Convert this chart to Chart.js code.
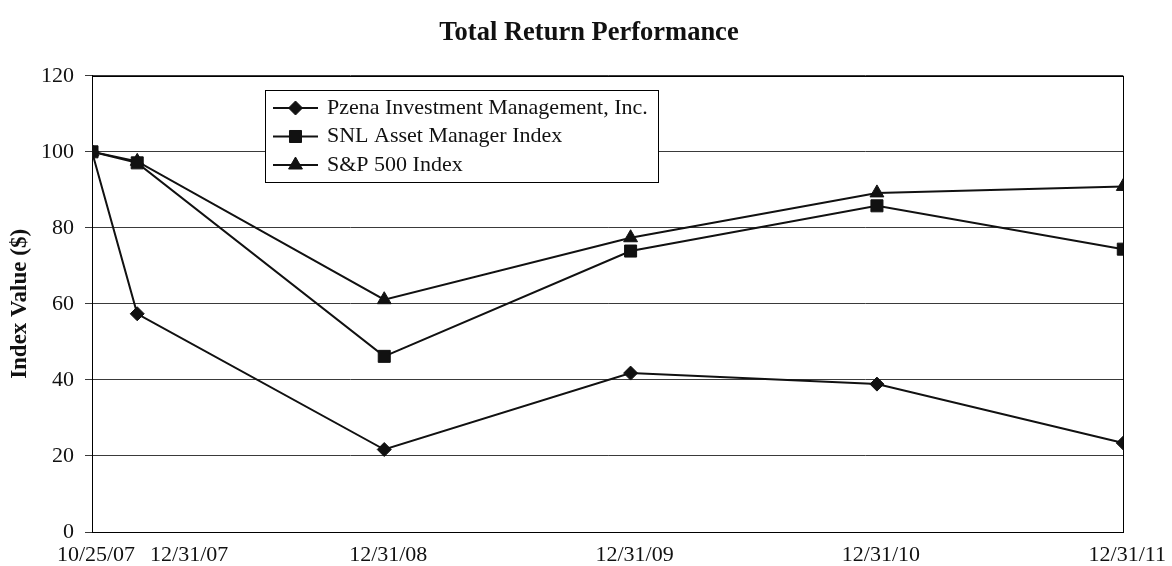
<!DOCTYPE html>
<html>
<head>
<meta charset="utf-8">
<script src="https://cdn.jsdelivr.net/npm/chart.js@4.4.1/dist/chart.umd.min.js"></script>
<style>
html,body{margin:0;padding:0;background:#fff;}
#wrap{width:1172px;height:566px;position:relative;}
</style>
</head>
<body>
<div id="wrap"><canvas id="c" width="1172" height="566"></canvas></div>
<script>
// ---- data ----
const categories = ['10/25/07', '12/31/07', '12/31/08', '12/31/09', '12/31/10', '12/31/11'];
const seriesNames = ['Pzena Investment Management, Inc.', 'SNL Asset Manager Index', 'S&P 500 Index'];
const pzena = [100, 57.4, 21.7, 41.8, 38.9, 23.4];
const snl   = [100, 97.1, 46.2, 73.9, 85.8, 74.4];
const sp500 = [100, 97.5, 61.1, 77.4, 89.2, 90.9];
const yTicks = [0, 20, 40, 60, 80, 100, 120];

function dayOffset(s) {
  const [m, d, y] = s.split('/').map(Number);
  return (Date.UTC(2000 + y, m - 1, d) - Date.UTC(2007, 9, 25)) / 86400000;
}
const xDays = categories.map(dayOffset);

const FONT = 'Liberation Serif, Times New Roman, serif';
const INK = '#111111';

function series(name, values, style, radius) {
  return {
    label: name,
    data: xDays.map((x, i) => ({ x: x, y: values[i] })),
    borderColor: INK,
    backgroundColor: INK,
    pointBackgroundColor: INK,
    pointBorderColor: INK,
    borderWidth: 2,
    pointStyle: style,
    pointRadius: radius,
    pointBorderWidth: 1,
    tension: 0
  };
}

const shiftLabelPlugin = {
  id: 'shiftLabel',
  beforeDraw(chart, args, opts) {
    const items = chart.scales.x.getLabelItems();
    const it = items[opts.index];
    if (it && !it._shifted) {
      it.options.translation[0] += opts.dx;
      it._shifted = true;
    }
  }
};

const frameBoxPlugin = {
  id: 'frameBox',
  beforeDatasetsDraw(chart) {
    const { ctx, chartArea: a } = chart;
    ctx.save();
    ctx.strokeStyle = '#000';
    ctx.lineWidth = 1;
    const l = Math.round(a.left) + 0.5, t = Math.round(a.top) + 0.5;
    const r = Math.round(a.right) + 0.5, b = Math.round(a.bottom) + 0.5;
    ctx.strokeRect(l, t, r - l, b - t);
    ctx.restore();
  }
};

function drawMarker(ctx, style, r, x, y) {
  if (Chart.helpers && Chart.helpers.drawPoint) {
    Chart.helpers.drawPoint(ctx, { pointStyle: style, radius: r, borderWidth: 1, rotation: 0 }, x, y);
    return;
  }
  ctx.beginPath();
  if (style === 'rectRot') {
    ctx.moveTo(x - r, y); ctx.lineTo(x, y - r); ctx.lineTo(x + r, y); ctx.lineTo(x, y + r);
  } else if (style === 'rect') {
    const s = r * Math.SQRT1_2; ctx.rect(x - s, y - s, 2 * s, 2 * s);
  } else {
    ctx.moveTo(x, y - r); ctx.lineTo(x + r * 0.866, y + r / 2); ctx.lineTo(x - r * 0.866, y + r / 2);
  }
  ctx.closePath(); ctx.fill(); ctx.stroke();
}

const boxLegendPlugin = {
  id: 'boxLegend',
  afterDatasetsDraw(chart, args, o) {
    const ctx = chart.ctx;
    ctx.save();
    ctx.font = o.fontSize + 'px ' + FONT;
    let maxW = 0;
    chart.data.datasets.forEach(ds => { maxW = Math.max(maxW, ctx.measureText(ds.label).width); });
    const right = Math.round(o.textX + maxW + o.padRight);
    ctx.fillStyle = '#fff';
    ctx.fillRect(o.left, o.top, right - o.left, o.bottom - o.top);
    ctx.strokeStyle = '#000';
    ctx.lineWidth = 1;
    ctx.strokeRect(o.left + 0.5, o.top + 0.5, right - o.left, o.bottom - o.top);
    chart.data.datasets.forEach((ds, i) => {
      const y = o.top + o.rowStart + i * o.rowGap;
      ctx.strokeStyle = ds.borderColor;
      ctx.lineWidth = ds.borderWidth;
      ctx.beginPath();
      ctx.moveTo(o.lineX0, y); ctx.lineTo(o.lineX1, y);
      ctx.stroke();
      ctx.fillStyle = ds.pointBackgroundColor;
      ctx.strokeStyle = ds.pointBorderColor;
      ctx.lineWidth = 1;
      drawMarker(ctx, ds.pointStyle, ds.pointRadius, (o.lineX0 + o.lineX1) / 2, y);
      ctx.fillStyle = INK;
      ctx.textBaseline = 'middle';
      ctx.textAlign = 'left';
      ctx.font = o.fontSize + 'px ' + FONT;
      ctx.fillText(ds.label, o.textX, y);
    });
    ctx.restore();
  }
};

new Chart(document.getElementById('c'), {
  type: 'line',
  data: {
    datasets: [
      series(seriesNames[0], pzena, 'rectRot', 7),
      series(seriesNames[1], snl, 'rect', 8.5),
      series(seriesNames[2], sp500, 'triangle', 8)
    ]
  },
  options: {
    responsive: false,
    animation: false,
    devicePixelRatio: 1,
    layout: { padding: { left: 6, right: 0, top: 0, bottom: 0 } },
    scales: {
      x: {
        type: 'linear',
        min: xDays[0],
        max: xDays[xDays.length - 1],
        afterBuildTicks: s => { s.ticks = xDays.map(v => ({ value: v })); },
        afterFit: s => { s.height = 34; },
        ticks: {
          autoSkip: false, maxRotation: 0, minRotation: 0,
          padding: 10, labelOffset: 4, color: INK,
          font: { family: FONT, size: 22 },
          callback: (v, i) => categories[i]
        },
        grid: { display: false, drawTicks: false },
        border: { display: true, color: '#000', width: 1 }
      },
      y: {
        min: 0, max: 120,
        afterBuildTicks: s => { s.ticks = yTicks.map(v => ({ value: v })); },
        afterFit: s => { s.width = 86; },
        ticks: { padding: 11, color: INK, font: { family: FONT, size: 22 } },
        grid: { color: '#3a3a3a', lineWidth: 1, tickLength: 7, drawTicks: true },
        border: { color: '#000', width: 1 },
        title: {
          display: true, text: 'Index Value ($)', color: INK,
          font: { family: FONT, size: 23, weight: 'bold' },
          padding: { top: 0, bottom: 0 }
        }
      },
      yRight: {
        position: 'right',
        min: 0, max: 120,
        afterFit: s => { s.width = 43; },
        ticks: { display: false },
        grid: { display: false, drawTicks: false },
        border: { display: false }
      }
    },
    plugins: {
      title: {
        display: true, text: 'Total Return Performance', color: INK,
        font: { family: FONT, size: 26.5, weight: 'bold' },
        padding: { top: 17, bottom: 27 }
      },
      legend: { display: false },
      tooltip: { enabled: false },
      shiftLabel: { index: 1, dx: 48 },
      boxLegend: {
        left: 265, top: 90, bottom: 182, textX: 327, padRight: 10,
        lineX0: 273, lineX1: 318, rowStart: 18, rowGap: 28.5, fontSize: 22
      }
    }
  },
  plugins: [shiftLabelPlugin, frameBoxPlugin, boxLegendPlugin]
});
</script>
</body>
</html>
